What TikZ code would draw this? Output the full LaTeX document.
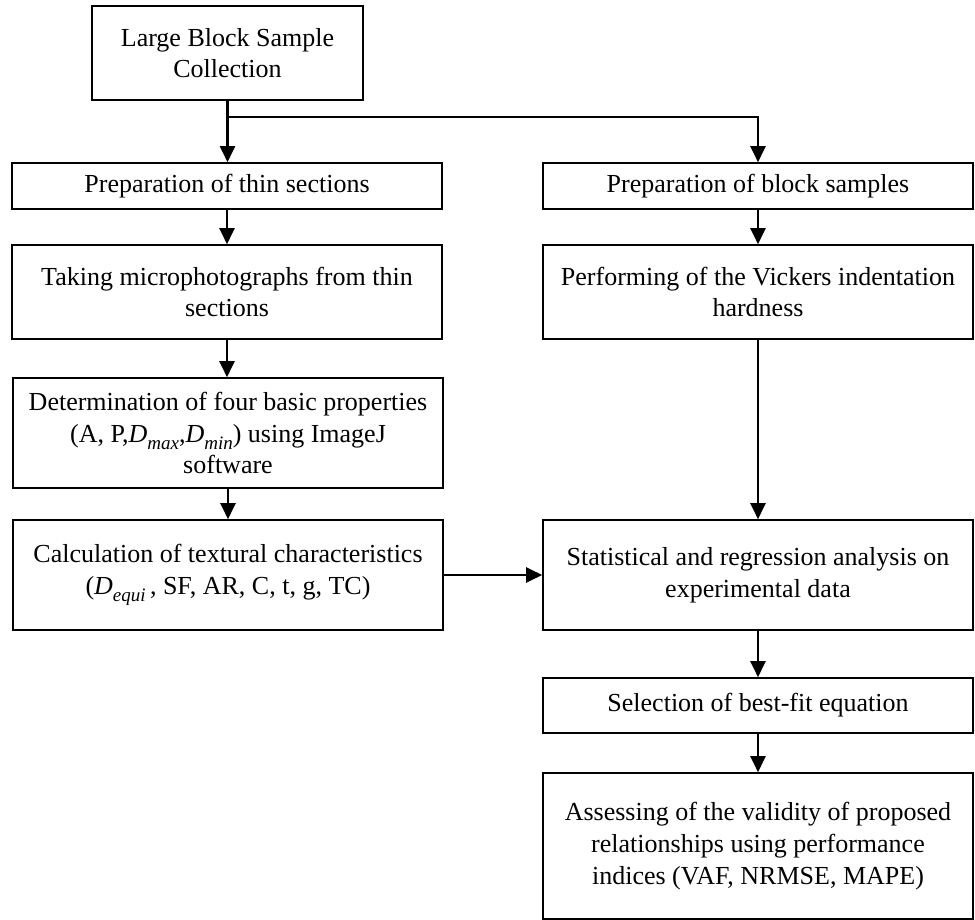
\documentclass[tikz,border=0pt]{standalone}
\usepackage{fontspec}
\setmainfont{Liberation Serif}
\usetikzlibrary{arrows.meta}
\newcommand{\myDsub}[1]{{\itshape D\raisebox{-0.28em}{\fontsize{19}{19}\selectfont #1}}}
\begin{document}
\begin{tikzpicture}[x=1pt,y=-1pt,
  box/.style={draw,line width=1.6pt,inner sep=0pt,align=center,minimum width=430pt,font=\fontsize{26}{31.7}\selectfont},
  arr/.style={line width=2.2pt,-{Triangle[length=16pt,width=15pt]}},
  ln/.style={line width=2.2pt}]
\useasboundingbox (0,0) rectangle (975,920);
\node[box,minimum width=271pt,minimum height=94pt] (b1) at (227.5,53) {Large Block Sample\\Collection};
\node[box,minimum height=46pt] (b2) at (227,186) {Preparation of thin sections};
\node[box,minimum height=46pt] (b3) at (758,186) {Preparation of block samples};
\node[box,minimum height=94pt] (b4) at (227,292) {Taking microphotographs from thin\\sections};
\node[box,minimum height=94pt] (b5) at (758,292) {Performing of the Vickers indentation\\hardness};
\node[box,minimum height=110pt] (b6) at (228,433) {Determination of four basic properties\\(A, P,\myDsub{max},\myDsub{min}) using ImageJ\\software};
\node[box,minimum height=110pt] (b7) at (228,575) {Calculation of textural characteristics\\(\myDsub{equi}\,, SF, AR, C, t, g, TC)};
\node[box,minimum height=110pt] (b8) at (758,575) {Statistical and regression analysis on\\experimental data};
\node[box,minimum height=55pt] (b9) at (758,705.5) {Selection of best-fit equation};
\node[box,minimum height=146pt] (b10) at (758,846) {Assessing of the validity of proposed\\relationships using performance\\indices (VAF, NRMSE, MAPE)};
\coordinate (split) at (227.5,117);
\draw[arr] (b1.south) -- (b1.south |- b2.north);
\draw[arr] (split) -| (b3.north);
\draw[arr] (b2.south) -- (b4.north);
\draw[arr] (b3.south) -- (b5.north);
\draw[arr] (b4.south) -- (b4.south |- b6.north);
\draw[arr] (b6.south) -- (b7.north);
\draw[arr] (b5.south) -- (b8.north);
\draw[arr] (b7.east) -- (b8.west);
\draw[arr] (b8.south) -- (b9.north);
\draw[arr] (b9.south) -- (b10.north);
\end{tikzpicture}
\end{document}
